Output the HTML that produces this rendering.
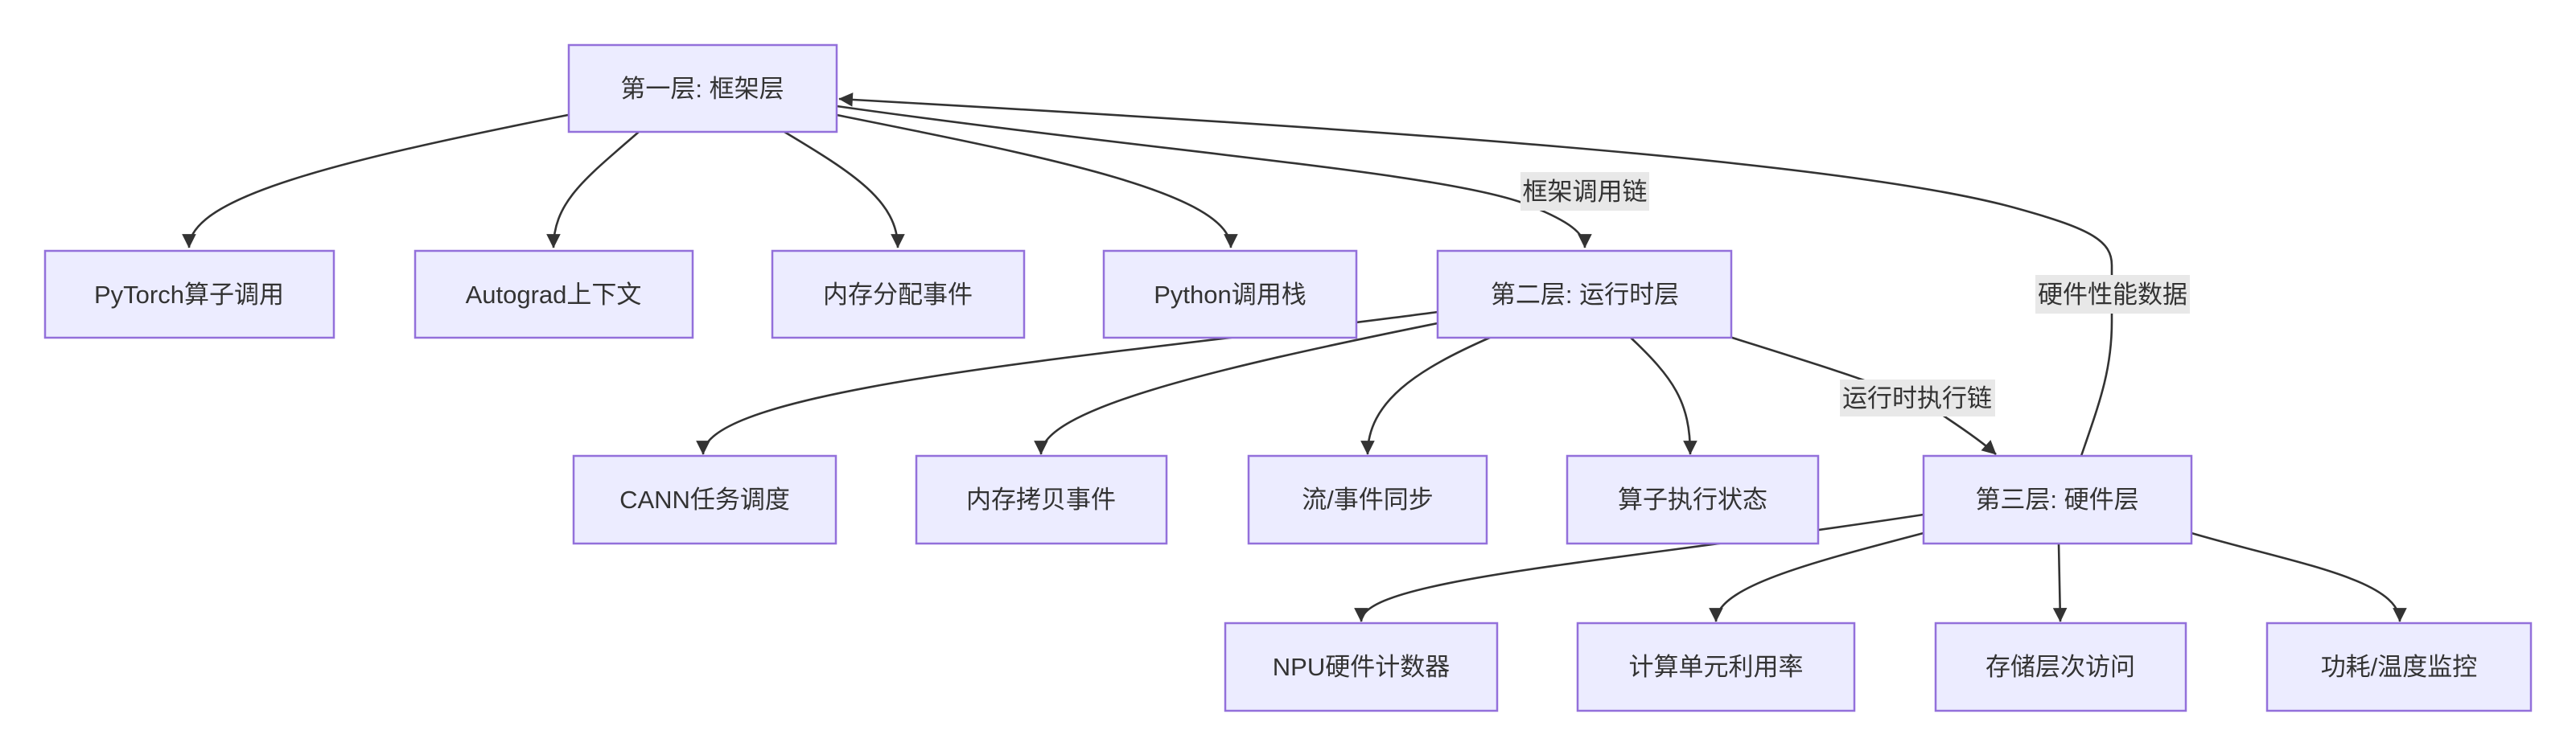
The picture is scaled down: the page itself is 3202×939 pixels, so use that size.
<!DOCTYPE html>
<html><head><meta charset="utf-8"><style>
html,body{margin:0;padding:0;background:#fff;}
svg{display:block;}
text{font-family:"Liberation Sans","Noto Sans CJK SC",sans-serif;font-size:31px;fill:#333;}
.n{fill:#ECECFF;stroke:#9370DB;stroke-width:2.5;}
.e{fill:none;stroke:#333;stroke-width:2.6;}
.lb{fill:#e8e8e8;}
</style></head><body>
<svg width="3202" height="939" viewBox="0 0 3202 939" xmlns="http://www.w3.org/2000/svg">
<defs><marker id="a" viewBox="0 0 10 10" refX="9" refY="5" markerWidth="8" markerHeight="8" markerUnits="userSpaceOnUse" orient="auto" style="overflow:visible"><path d="M0,0 L10,5 L0,10 z" fill="#333" transform="scale(2.2) translate(-5.5,-2.7)"/></marker></defs>
<g class="e">
<path d="M706,143 C420,200 235,245 235,308" marker-end="url(#a)"/>
<path d="M794,164 C730,220 688,250 688,308" marker-end="url(#a)"/>
<path d="M975,164 C1060,215 1116,250 1116,308" marker-end="url(#a)"/>
<path d="M1040,143 C1300,195 1530,240 1530,308" marker-end="url(#a)"/>
<path d="M1040,132 C1450,190 1800,215 1900,255 C1950,275 1970,290 1970,308" marker-end="url(#a)"/>
<path d="M2587,567 C2610,500 2625,460 2625,400 L2625,330 C2625,300 2600,285 2510,260 C2300,200 1700,160 1043,123" marker-end="url(#a)"/>
<path d="M1787,388 C1400,440 874,480 874,565" marker-end="url(#a)"/>
<path d="M1787,402 C1500,460 1294,510 1294,565" marker-end="url(#a)"/>
<path d="M1854,419 C1760,460 1700,500 1700,565" marker-end="url(#a)"/>
<path d="M2026,419 C2080,470 2101,500 2101,565" marker-end="url(#a)"/>
<path d="M2150,419 C2280,460 2380,490 2420,520 C2450,540 2470,555 2481,565" marker-end="url(#a)"/>
<path d="M2391,640 C2000,700 1692,720 1692,773" marker-end="url(#a)"/>
<path d="M2391,663 C2250,700 2133,730 2133,773" marker-end="url(#a)"/>
<path d="M2559,676 L2561,773" marker-end="url(#a)"/>
<path d="M2724,663 C2850,700 2983,720 2983,773" marker-end="url(#a)"/>
</g>
<g>
<rect class="lb" x="1890" y="214" width="160" height="48"/><text x="1970" y="249" text-anchor="middle">框架调用链</text>
<rect class="lb" x="2287" y="472" width="193" height="46"/><text x="2383" y="506" text-anchor="middle">运行时执行链</text>
<rect class="lb" x="2530" y="342" width="192" height="48"/><text x="2626" y="377" text-anchor="middle">硬件性能数据</text>
</g>
<g>
<rect class="n" x="707" y="56" width="333" height="108"/><text x="873" y="121" text-anchor="middle">第一层: 框架层</text>
<rect class="n" x="56" y="312" width="359" height="108"/><text x="235" y="377" text-anchor="middle">PyTorch算子调用</text>
<rect class="n" x="516" y="312" width="345" height="108"/><text x="688" y="377" text-anchor="middle">Autograd上下文</text>
<rect class="n" x="960" y="312" width="313" height="108"/><text x="1116" y="377" text-anchor="middle">内存分配事件</text>
<rect class="n" x="1372" y="312" width="314" height="108"/><text x="1529" y="377" text-anchor="middle">Python调用栈</text>
<rect class="n" x="1787" y="312" width="365" height="108"/><text x="1970" y="377" text-anchor="middle">第二层: 运行时层</text>
<rect class="n" x="713" y="567" width="326" height="109"/><text x="876" y="632" text-anchor="middle">CANN任务调度</text>
<rect class="n" x="1139" y="567" width="311" height="109"/><text x="1294" y="632" text-anchor="middle">内存拷贝事件</text>
<rect class="n" x="1552" y="567" width="296" height="109"/><text x="1700" y="632" text-anchor="middle">流/事件同步</text>
<rect class="n" x="1948" y="567" width="312" height="109"/><text x="2104" y="632" text-anchor="middle">算子执行状态</text>
<rect class="n" x="2391" y="567" width="333" height="109"/><text x="2557" y="632" text-anchor="middle">第三层: 硬件层</text>
<rect class="n" x="1523" y="775" width="338" height="109"/><text x="1692" y="840" text-anchor="middle">NPU硬件计数器</text>
<rect class="n" x="1961" y="775" width="344" height="109"/><text x="2133" y="840" text-anchor="middle">计算单元利用率</text>
<rect class="n" x="2406" y="775" width="311" height="109"/><text x="2561" y="840" text-anchor="middle">存储层次访问</text>
<rect class="n" x="2818" y="775" width="328" height="109"/><text x="2982" y="840" text-anchor="middle">功耗/温度监控</text>
</g>
</svg>
</body></html>
